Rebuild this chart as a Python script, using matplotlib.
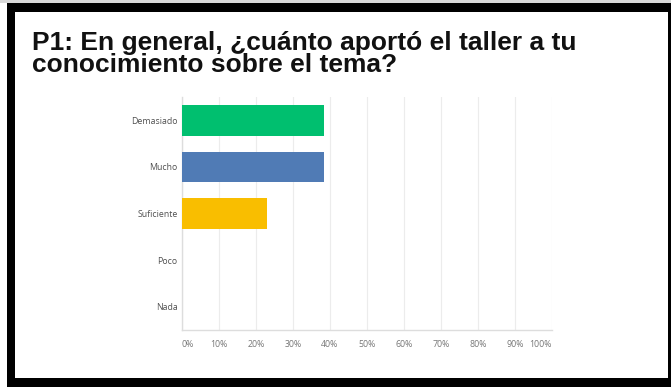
import matplotlib
matplotlib.use("Agg")
import matplotlib.pyplot as plt
from matplotlib.patches import Rectangle

# respuestas P1 (13 personas)
categorias = ["Demasiado", "Mucho", "Suficiente", "Poco", "Nada"]
porcentajes = [38.46, 38.46, 23.08, 0.0, 0.0]
colores = ["#00BF6F", "#507BB5", "#F9BE00", "#A0A0A0", "#A0A0A0"]
ticks = [0, 10, 20, 30, 40, 50, 60, 70, 80, 90, 100]
titulo = "P1: En general, ¿cuánto aportó el taller a tu\nconocimiento sobre el tema?"

W, H = 671, 387
fig = plt.figure(figsize=(W / 100, H / 100), dpi=100)
fig.patch.set_facecolor("white")

# marco negro
def caja(x0, y0, x1, y1, c="black"):
    fig.add_artist(Rectangle((x0 / W, 1 - y1 / H), (x1 - x0) / W, (y1 - y0) / H,
                             transform=fig.transFigure, color=c, lw=0))

caja(0, 0, W, 3, "#d8d8d8")
caja(7, 3, W, 12)
caja(7, 3, 15, H)
caja(668, 3, W, H)
caja(7, 378, W, H)

# baseline = ultima linea del titulo
fig.text(32 / W, 1 - 72 / H, titulo, fontsize=19, fontweight="bold",
         family=["Liberation Sans", "DejaVu Sans"], color="#111111",
         ha="left", va="baseline", linespacing=0.88)

ax = fig.add_axes([181.7 / W, 57 / H, (552 - 181.7) / W, 233 / H])
y = list(range(len(categorias)))
ax.barh(y, porcentajes, height=0.66, color=colores, zorder=3)
ax.set_xlim(0, 100)
ax.set_ylim(len(categorias) - 0.5, -0.5)

ax.set_yticks(y)
ax.set_yticklabels(categorias, fontsize=6.3, color="#505050", family="Open Sans")
ax.set_xticks(ticks)
labels = ax.set_xticklabels([f"{t}%" for t in ticks], fontsize=6.3, color="#777777",
                            family="Open Sans")
labels[0].set_ha("left")
labels[-1].set_ha("right")
ax.tick_params(axis="both", length=0)
ax.tick_params(axis="x", pad=7)
ax.tick_params(axis="y", pad=3)

ax.grid(axis="x", color="#ececec", lw=0.8, zorder=0)
for s in ["top", "right"]:
    ax.spines[s].set_visible(False)
for s in ["left", "bottom"]:
    ax.spines[s].set_color("#dddddd")
    ax.spines[s].set_linewidth(1)

fig.savefig("out.png", dpi=100)
